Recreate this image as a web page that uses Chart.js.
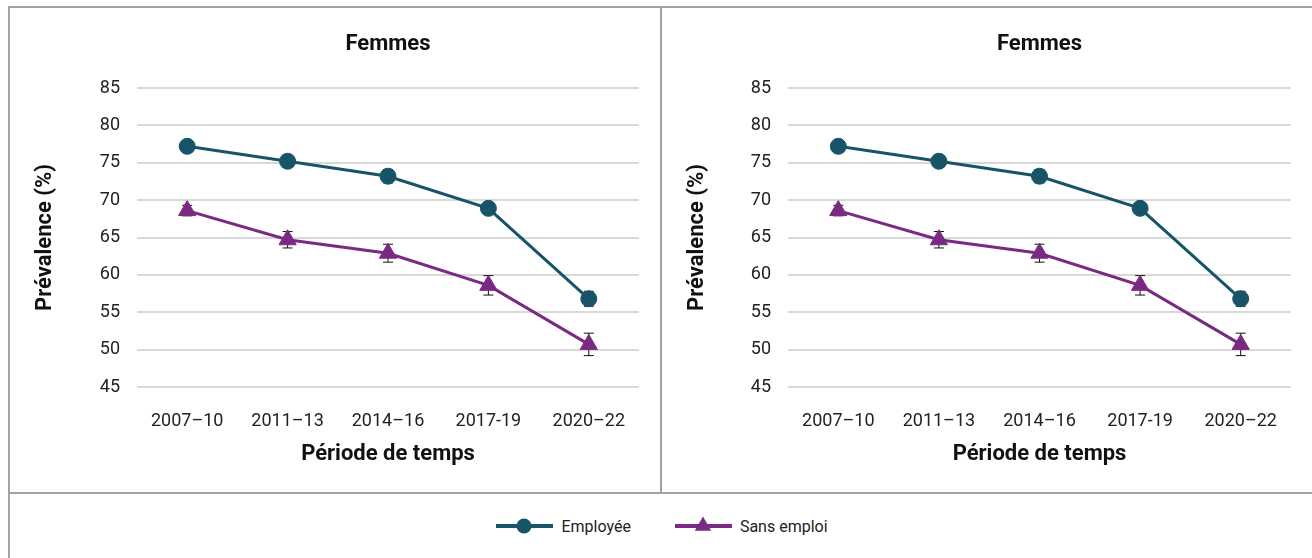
<!DOCTYPE html>
<html lang="fr">
<head>
<meta charset="utf-8">
<title>Prévalence selon la situation d'emploi</title>
<script src="https://cdn.jsdelivr.net/npm/chart.js@4.4.1/dist/chart.umd.min.js"></script>
<style>
  body { margin: 0; background: #fff; font-family: Roboto, "Noto Sans", sans-serif; }
  #page { position: relative; width: 1312px; height: 558px; overflow: hidden; }
  .rule { position: absolute; background: #a3a3a3; }
  canvas.panel { position: absolute; top: 8px; }
  #legend {
    position: absolute; left: 0; top: 494px; width: 1324px; height: 64px;
    display: flex; justify-content: center; align-items: center; gap: 44px;
    font-size: 16px; color: #222;
  }
  #legend .item { display: flex; align-items: center; gap: 8px; }
</style>
</head>
<body>
<div id="page">
  <div class="rule" style="left:9px; top:6px; width:1303px; height:2px;"></div>
  <div class="rule" style="left:8px; top:6px; width:2px; height:552px;"></div>
  <div class="rule" style="left:660px; top:7px; width:2px; height:486px;"></div>
  <div class="rule" style="left:9px; top:492px; width:1303px; height:2px;"></div>

  <canvas id="chartLeft" class="panel" width="650" height="485" style="left:10px;"></canvas>
  <canvas id="chartRight" class="panel" width="650" height="485" style="left:662px;"></canvas>

  <div id="legend"></div>
</div>

<script>
// periods and prevalence (%) with half-width of the confidence interval
const periodes = ['2007–10', '2011–13', '2014–16', '2017-19', '2020–22'];
const employee = [77.2, 75.2, 73.2, 68.9, 56.8];
const employeeErr = [0.4, 0.6, 0.9, 0.6, 1.0];
const sansEmploi = [68.6, 64.7, 62.9, 58.6, 50.7];
const sansEmploiErr = [0.7, 1.1, 1.2, 1.3, 1.5];
const yMin = 45;
const yMax = 85;
const yStep = 5;

const series = [
    { label: 'Employée', data: employee, errors: employeeErr, color: '#175467', style: 'circle', radius: 8 },
    { label: 'Sans emploi', data: sansEmploi, errors: sansEmploiErr, color: '#7b2a83', style: 'triangle', radius: 10 },
];

// draws the CI whiskers under each dataset
const errorBars = {
    id: 'errorBars',
    beforeDatasetsDraw(chart) {
        const ctx = chart.ctx;
        const y = chart.scales.y;
        chart.data.datasets.forEach((ds, i) => {
            const meta = chart.getDatasetMeta(i);
            ctx.save();
            ctx.strokeStyle = '#111';
            ctx.lineWidth = 1;
            meta.data.forEach((pt, j) => {
                const hi = y.getPixelForValue(ds.data[j] + ds.errors[j]);
                const lo = y.getPixelForValue(ds.data[j] - ds.errors[j]);
                ctx.beginPath();
                ctx.moveTo(pt.x, hi);
                ctx.lineTo(pt.x, lo);
                ctx.moveTo(pt.x - 5, hi);
                ctx.lineTo(pt.x + 5, hi);
                ctx.moveTo(pt.x - 5, lo);
                ctx.lineTo(pt.x + 5, lo);
                ctx.stroke();
            });
            ctx.restore();
        });
    }
};

const titleFont = { family: 'Roboto', size: 22, weight: 'bold', lineHeight: 1.2 };
const tickFont = { family: 'Roboto', size: 18, lineHeight: 1.2 };

function makeChart(id, yWidth) {
    const ctx = document.getElementById(id).getContext('2d');
    return new Chart(ctx, {
        type: 'line',
        data: {
            labels: periodes,
            datasets: series.map(s => ({
                label: s.label,
                data: s.data,
                errors: s.errors,
                borderColor: s.color,
                backgroundColor: s.color,
                borderWidth: 3,
                pointStyle: s.style,
                pointRadius: s.radius,
                pointBorderWidth: 1,
                pointBackgroundColor: s.color,
                pointBorderColor: s.color,
                tension: 0,
            })),
        },
        options: {
            responsive: false,
            animation: false,
            layout: { padding: { left: 0, right: 21, top: 0, bottom: 0 } },
            plugins: {
                legend: { display: false },
                tooltip: { enabled: false },
                title: {
                    display: true,
                    text: 'Femmes',
                    fullSize: false,
                    color: '#111',
                    font: titleFont,
                    padding: { top: 23, bottom: 30.6 },
                },
            },
            scales: {
                x: {
                    offset: true,
                    grid: { display: false },
                    border: { display: false },
                    ticks: { color: '#222', font: tickFont, padding: 16, maxRotation: 0 },
                    title: {
                        display: true,
                        text: 'Période de temps',
                        color: '#111',
                        font: titleFont,
                        padding: { top: 0, bottom: 25 },
                    },
                    afterFit(scale) { scale.height = 106; },
                },
                y: {
                    min: yMin,
                    max: yMax,
                    ticks: { stepSize: yStep, color: '#222', font: tickFont, padding: 17 },
                    grid: { color: '#d9d9d9', lineWidth: 2, drawTicks: false },
                    border: { display: false },
                    title: {
                        display: true,
                        text: 'Prévalence (%)',
                        color: '#111',
                        font: titleFont,
                        padding: { top: 22, bottom: 0 },
                    },
                    afterFit(scale) { scale.width = yWidth; },
                },
            },
        },
        plugins: [errorBars],
    });
}

makeChart('chartLeft', 127);
makeChart('chartRight', 126);

// shared legend below both panels
const legend = document.getElementById('legend');
series.forEach(s => {
    const item = document.createElement('div');
    item.className = 'item';
    const icon = document.createElement('canvas');
    icon.width = 57;
    icon.height = 20;
    const c = icon.getContext('2d');
    c.strokeStyle = s.color;
    c.fillStyle = s.color;
    c.lineWidth = 4;
    c.beginPath();
    c.moveTo(0, 10);
    c.lineTo(57, 10);
    c.stroke();
    const r = s.style === 'circle' ? 7.5 : 9.5;
    const x = 28, y = 10;
    c.beginPath();
    if (s.style === 'circle') {
        c.arc(x, y, r, 0, Math.PI * 2);
    } else {
        c.moveTo(x, y - r);
        c.lineTo(x + Math.sin(2 * Math.PI / 3) * r, y + 0.5 * r);
        c.lineTo(x - Math.sin(2 * Math.PI / 3) * r, y + 0.5 * r);
        c.closePath();
    }
    c.fill();
    const text = document.createElement('span');
    text.textContent = s.label;
    item.appendChild(icon);
    item.appendChild(text);
    legend.appendChild(item);
});
</script>
</body>
</html>
